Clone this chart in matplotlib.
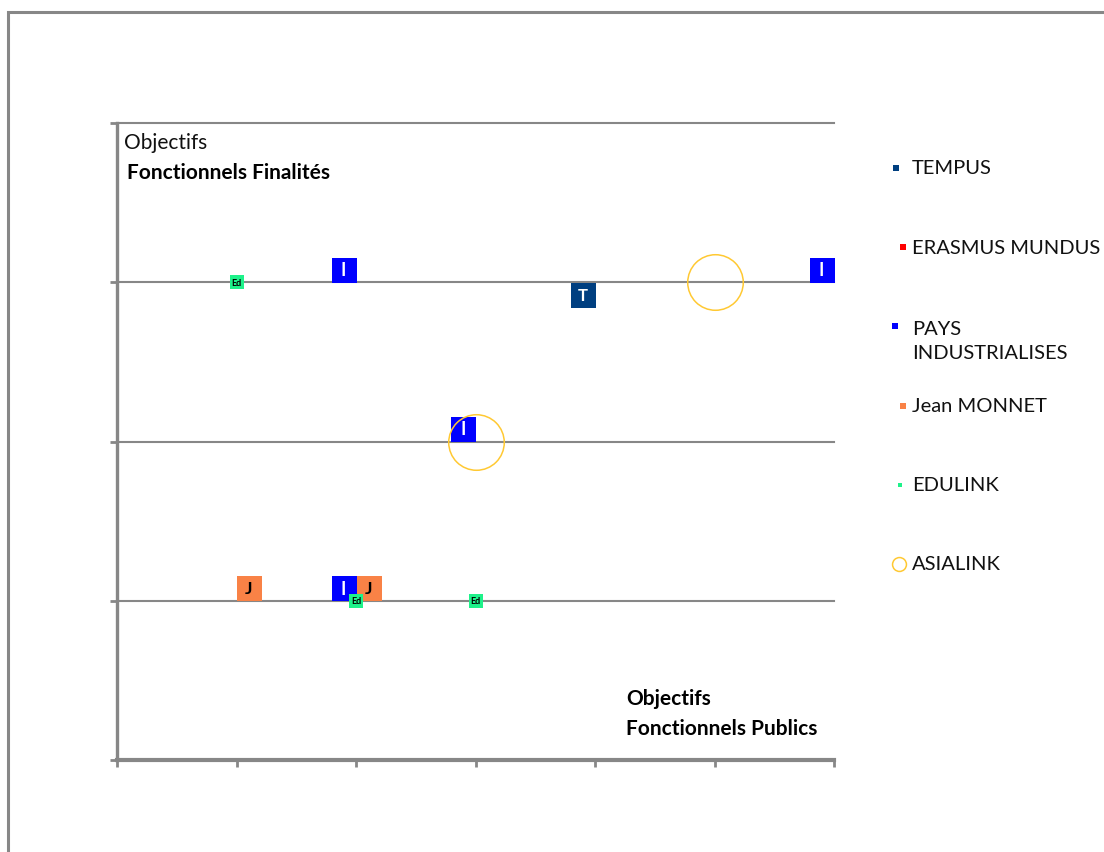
import matplotlib.pyplot as plt
from matplotlib.lines import Line2D
from matplotlib.patches import Rectangle
from matplotlib.transforms import ScaledTranslation

plt.rcParams["font.family"] = ["Lato", "DejaVu Sans"]

# programmes and their positions on the (public, finalité) grid
series = ["TEMPUS", "ERASMUS MUNDUS", "PAYS\nINDUSTRIALISES", "Jean MONNET", "EDULINK", "ASIALINK"]
tempus_x = [4]
tempus_y = [3]
erasmus_x = []
erasmus_y = []
pays_x = [2, 6, 3, 2]
pays_y = [3, 3, 2, 1]
monnet_x = [1, 2]
monnet_y = [1, 1]
edulink_x = [1, 2, 3]
edulink_y = [3, 1, 1]
asialink_x = [5, 3]
asialink_y = [3, 2]

x_ticks = [0, 1, 2, 3, 4, 5, 6]
y_ticks = [0, 1, 2, 3, 4]

GREY = "#878787"
DPI = 100

fig = plt.figure(figsize=(11.04, 8.53), dpi=DPI, facecolor="white")
ax = fig.add_axes([117 / 1104, 1 - 761 / 853, (834 - 117) / 1104, (761 - 124) / 853])

# outer chart frame, running off the right and bottom edges
fig.patches.append(Rectangle((8 / 1104, -0.1), 1.2, 0.1 + (853 - 13) / 853,
                             transform=fig.transFigure, fill=False,
                             edgecolor=GREY, linewidth=2.2, zorder=0))

ax.set_xlim(x_ticks[0], x_ticks[-1])
ax.set_ylim(y_ticks[0], y_ticks[-1])
ax.set_xticks(x_ticks)
ax.set_yticks(y_ticks)
ax.set_xticklabels([])
ax.set_yticklabels([])
ax.tick_params(direction="out", length=5, width=2, color=GREY)
for side in ["top", "right"]:
    ax.spines[side].set_visible(False)
ax.spines["left"].set_color(GREY)
ax.spines["left"].set_linewidth(2.4)
ax.spines["bottom"].set_color(GREY)
ax.spines["bottom"].set_linewidth(3)
ax.yaxis.grid(True, color=GREY, linewidth=1.5)
for gl in ax.get_ygridlines():
    gl.set_clip_on(False)
ax.set_axisbelow(True)


def shifted(dx, dy):
    return ax.transData + ScaledTranslation(dx / 72, dy / 72, fig.dpi_scale_trans)


def tagged(xs, ys, color, tag, tcolor, size, fsize, dx, dy, z, bold=True):
    tr = shifted(dx, dy)
    ax.plot(xs, ys, ls="none", marker="s", ms=size, mew=0, color=color,
            transform=tr, zorder=z, clip_on=False)
    for x, y in zip(xs, ys):
        ax.text(x, y, tag, transform=tr, ha="center", va="center", color=tcolor,
                fontsize=fsize, fontweight="bold" if bold else "normal",
                zorder=z + 0.1, clip_on=False)


tagged(tempus_x, tempus_y, "#003F80", "T", "white", 18, 12, -9, -9, 3)
tagged(erasmus_x, erasmus_y, "#FF0000", "E", "white", 18, 12, -9, 9, 3)
tagged(pays_x, pays_y, "#0000FF", "I", "white", 18, 13, -9, 9, 3)
tagged(monnet_x, monnet_y, "#F98246", "J", "black", 18, 12.5, 9, 9, 3)
tagged(edulink_x, edulink_y, "#1EF28A", "Ed", "black", 10, 6.5, 0, 0, 4)
ax.plot(asialink_x, asialink_y, ls="none", marker="o", ms=40, mfc="none",
        mec="#FFC933", mew=1.1, zorder=5, clip_on=False)

# axis captions
fig.text(124 / 1104, 1 - 143 / 853, "Objectifs", fontsize=15, va="center",
         color="#111111")
fig.text(127 / 1104, 1 - 173 / 853, "Fonctionnels Finalités", fontsize=15,
         fontweight="bold", va="center")
fig.text(626 / 1104, 1 - 699 / 853, "Objectifs", fontsize=15,
         fontweight="bold", va="center")
fig.text(626 / 1104, 1 - 729 / 853, "Fonctionnels Publics", fontsize=15,
         fontweight="bold", va="center")

# legend drawn by hand on the right
leg_colors = ["#003F80", "#FF0000", "#0000FF", "#F98246", "#1EF28A", "#FFC933"]
leg_mx = [896, 903, 895, 903, 900, 899]
leg_y = [169, 248, 341.5, 407, 486, 565]
for lab, col, mx, ly in zip(series, leg_colors, leg_mx, leg_y):
    if lab == "ASIALINK":
        h = Line2D([mx / 1104], [1 - ly / 853], marker="o", ms=10, mfc="none",
                   mec=col, mew=1.1, ls="none", transform=fig.transFigure)
    else:
        ms = 3.5 if lab == "EDULINK" else 5
        h = Line2D([mx / 1104], [1 - (ly if "\n" not in lab else 327) / 853],
                   marker="s", ms=ms, mew=0, color=col, ls="none",
                   transform=fig.transFigure)
    fig.lines.append(h)
    fig.text(912 / 1104, 1 - ly / 853, lab, fontsize=14.5, va="center",
             linespacing=1.45, color="#111111")

fig.savefig("out.png", dpi=DPI, facecolor="white")
